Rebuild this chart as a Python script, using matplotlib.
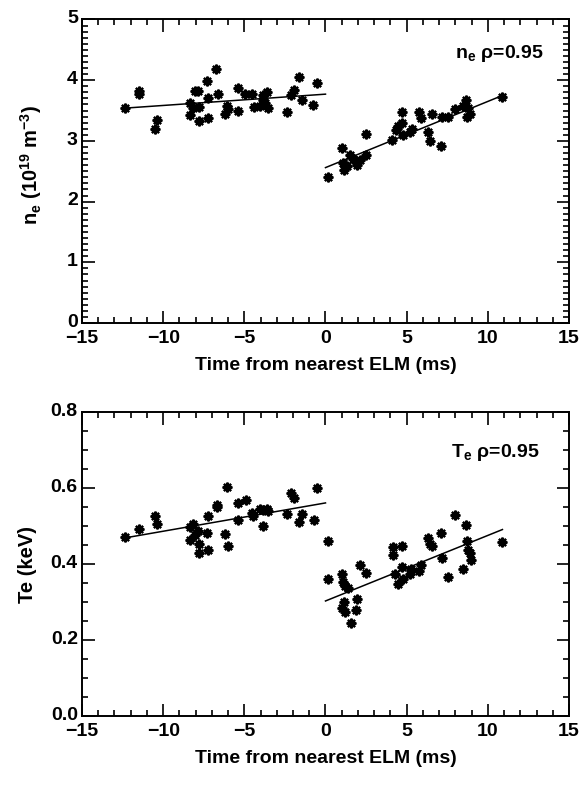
import numpy as np
import matplotlib
matplotlib.use("Agg")
import matplotlib.pyplot as plt
from matplotlib.ticker import MultipleLocator
from matplotlib.transforms import ScaledTranslation

# ---- data ----
ne_pre_t = [-12.35, -11.51, -11.51, -10.40, -10.52, -8.34, -8.34, -8.18, -8.04, -7.83,
            -7.77, -7.77, -7.32, -7.22, -7.22, -6.74, -6.64, -6.19, -6.09, -5.99,
            -5.37, -5.37, -4.96, -4.55, -4.41, -4.03, -3.87, -3.83, -3.63, -3.52,
            -3.73, -2.39, -2.15, -1.92, -1.65, -1.43, -0.75, -0.54]
ne_pre_v = [3.54, 3.83, 3.77, 3.34, 3.19, 3.62, 3.42, 3.54, 3.83, 3.83,
            3.56, 3.32, 3.98, 3.70, 3.38, 4.18, 3.77, 3.44, 3.57, 3.52,
            3.87, 3.50, 3.77, 3.77, 3.56, 3.57, 3.67, 3.76, 3.81, 3.55,
            3.63, 3.47, 3.76, 3.84, 4.05, 3.67, 3.59, 3.96]
ne_post_t = [0.17, 0.99, 1.10, 1.16, 1.30, 1.51, 1.67, 1.92, 2.12, 2.49,
             2.49, 4.08, 4.34, 4.49, 4.69, 4.69, 4.75, 5.21, 5.31, 5.78,
             5.86, 6.33, 6.44, 6.54, 7.10, 7.16, 7.57, 7.98, 8.49, 8.66,
             8.70, 8.80, 8.90, 10.85]
ne_post_v = [2.41, 2.88, 2.63, 2.52, 2.59, 2.77, 2.70, 2.60, 2.69, 3.12,
             2.77, 3.01, 3.18, 3.25, 3.48, 3.30, 3.10, 3.15, 3.19, 3.48,
             3.37, 3.14, 3.00, 3.45, 2.92, 3.39, 3.40, 3.53, 3.57, 3.67,
             3.40, 3.54, 3.45, 3.73]
ne_fit_pre_t, ne_fit_pre_v = [-12.35, 0.0], [3.54, 3.77]
ne_fit_post_t, ne_fit_post_v = [0.0, 11.1], [2.56, 3.77]

te_pre_t = [-12.35, -11.51, -10.52, -10.40, -8.34, -8.18, -8.34, -8.04, -7.83, -7.77,
            -7.77, -7.32, -7.22, -7.22, -6.70, -6.66, -6.19, -6.09, -5.99, -5.37,
            -5.37, -4.92, -4.55, -4.45, -4.03, -3.87, -3.83, -3.63, -3.52, -2.39,
            -2.15, -1.92, -1.65, -1.43, -0.71, -0.54]
te_pre_v = [0.473, 0.493, 0.527, 0.506, 0.499, 0.506, 0.464, 0.477, 0.489, 0.455,
            0.429, 0.482, 0.527, 0.439, 0.556, 0.550, 0.479, 0.604, 0.449, 0.562,
            0.518, 0.571, 0.536, 0.527, 0.547, 0.502, 0.543, 0.547, 0.540, 0.532,
            0.587, 0.574, 0.512, 0.534, 0.518, 0.600]
te_post_t = [0.17, 0.17, 0.99, 1.10, 1.21, 1.41, 0.99, 1.16, 1.21, 1.57,
             1.88, 1.96, 2.12, 2.49, 4.14, 4.14, 4.28, 4.49, 4.69, 4.69,
             4.75, 5.21, 5.27, 5.78, 5.86, 6.33, 6.44, 6.54, 7.10, 7.16,
             7.57, 7.98, 8.49, 8.66, 8.70, 8.80, 8.90, 8.94, 10.85]
te_post_v = [0.461, 0.363, 0.374, 0.354, 0.344, 0.339, 0.286, 0.302, 0.274, 0.247,
             0.280, 0.308, 0.398, 0.378, 0.446, 0.426, 0.376, 0.348, 0.449, 0.394,
             0.361, 0.376, 0.389, 0.383, 0.398, 0.471, 0.455, 0.449, 0.484, 0.418,
             0.368, 0.530, 0.387, 0.505, 0.462, 0.438, 0.429, 0.413, 0.460]
te_fit_pre_t, te_fit_pre_v = [-12.35, 0.0], [0.470, 0.562]
te_fit_post_t, te_fit_post_v = [0.0, 10.9], [0.304, 0.492]

x_ticks = [-15, -10, -5, 0, 5, 10, 15]

# ---- style ----
plt.rcParams['font.family'] = ['Liberation Sans Narrow', 'Liberation Sans', 'DejaVu Sans']
plt.rcParams['font.weight'] = 'bold'
plt.rcParams['mathtext.fontset'] = 'custom'
plt.rcParams['mathtext.rm'] = 'Liberation Sans:bold'
plt.rcParams['mathtext.it'] = 'Liberation Sans:bold'
plt.rcParams['mathtext.bf'] = 'Liberation Sans:bold'
plt.rcParams['mathtext.sf'] = 'Liberation Sans'
plt.rcParams['mathtext.default'] = 'rm'

fig = plt.figure(figsize=(5.87, 7.89), dpi=100)
ax1 = fig.add_axes([0.1397, 0.5906, 0.8296, 0.3847])
ax2 = fig.add_axes([0.1397, 0.0919, 0.8296, 0.3853])

mk = dict(marker=(8, 2, 0), ms=7, mew=1.6, color='black', ls='none')

def style(ax, ymax, ymajor, yminor, fmt):
    ax.set_xlim(-15, 15)
    ax.set_ylim(0, ymax)
    ax.set_xticks(x_ticks)
    ax.xaxis.set_minor_locator(MultipleLocator(1))
    ax.yaxis.set_major_locator(MultipleLocator(ymajor))
    ax.yaxis.set_minor_locator(MultipleLocator(yminor))
    ax.yaxis.set_major_formatter(matplotlib.ticker.FormatStrFormatter(fmt))
    ax.tick_params(which='both', direction='in', top=True, right=True, width=1.2,
                   labelsize=14)
    ax.tick_params(which='major', length=9)
    ax.tick_params(which='minor', length=4.5)
    ax.tick_params(axis='x', pad=5)
    ax.tick_params(axis='y', pad=3)
    for s in ax.spines.values():
        s.set_linewidth(1.4)
    ax.set_xlabel('Time from nearest ELM (ms)', fontsize=14, fontweight='bold', labelpad=7)
    shift = ScaledTranslation(0, 2 / 72, fig.dpi_scale_trans)
    for lab in ax.get_yticklabels():
        lab.set_transform(lab.get_transform() + shift)

ax1.plot(ne_pre_t, ne_pre_v, **mk)
ax1.plot(ne_post_t, ne_post_v, **mk)
ax1.plot(ne_fit_pre_t, ne_fit_pre_v, color='black', lw=1.1)
ax1.plot(ne_fit_post_t, ne_fit_post_v, color='black', lw=1.1)
style(ax1, 5, 1, 0.1, '%d')
ax1.set_ylabel(r'n$_e$ (10$^{19}$ m$^{-3}$)', fontsize=14.5, fontweight='bold')
ax1.yaxis.set_label_coords(-0.078, 0.52)
ax1.text(0.947, 0.873, r'n$_e$ $\mathsf{\rho}$=0.95', transform=ax1.transAxes,
         ha='right', va='baseline', fontsize=14, fontweight='bold')

ax2.plot(te_pre_t, te_pre_v, **mk)
ax2.plot(te_post_t, te_post_v, **mk)
ax2.plot(te_fit_pre_t, te_fit_pre_v, color='black', lw=1.1)
ax2.plot(te_fit_post_t, te_fit_post_v, color='black', lw=1.1)
style(ax2, 0.8, 0.2, 0.05, '%.1f')
ax2.set_ylabel('Te (keV)', fontsize=14.5, fontweight='bold')
ax2.yaxis.set_label_coords(-0.092, 0.5)
ax2.text(0.94, 0.853, r'T$_e$ $\mathsf{\rho}$=0.95', transform=ax2.transAxes,
         ha='right', va='baseline', fontsize=14, fontweight='bold')

fig.savefig('out.png', dpi=100)
